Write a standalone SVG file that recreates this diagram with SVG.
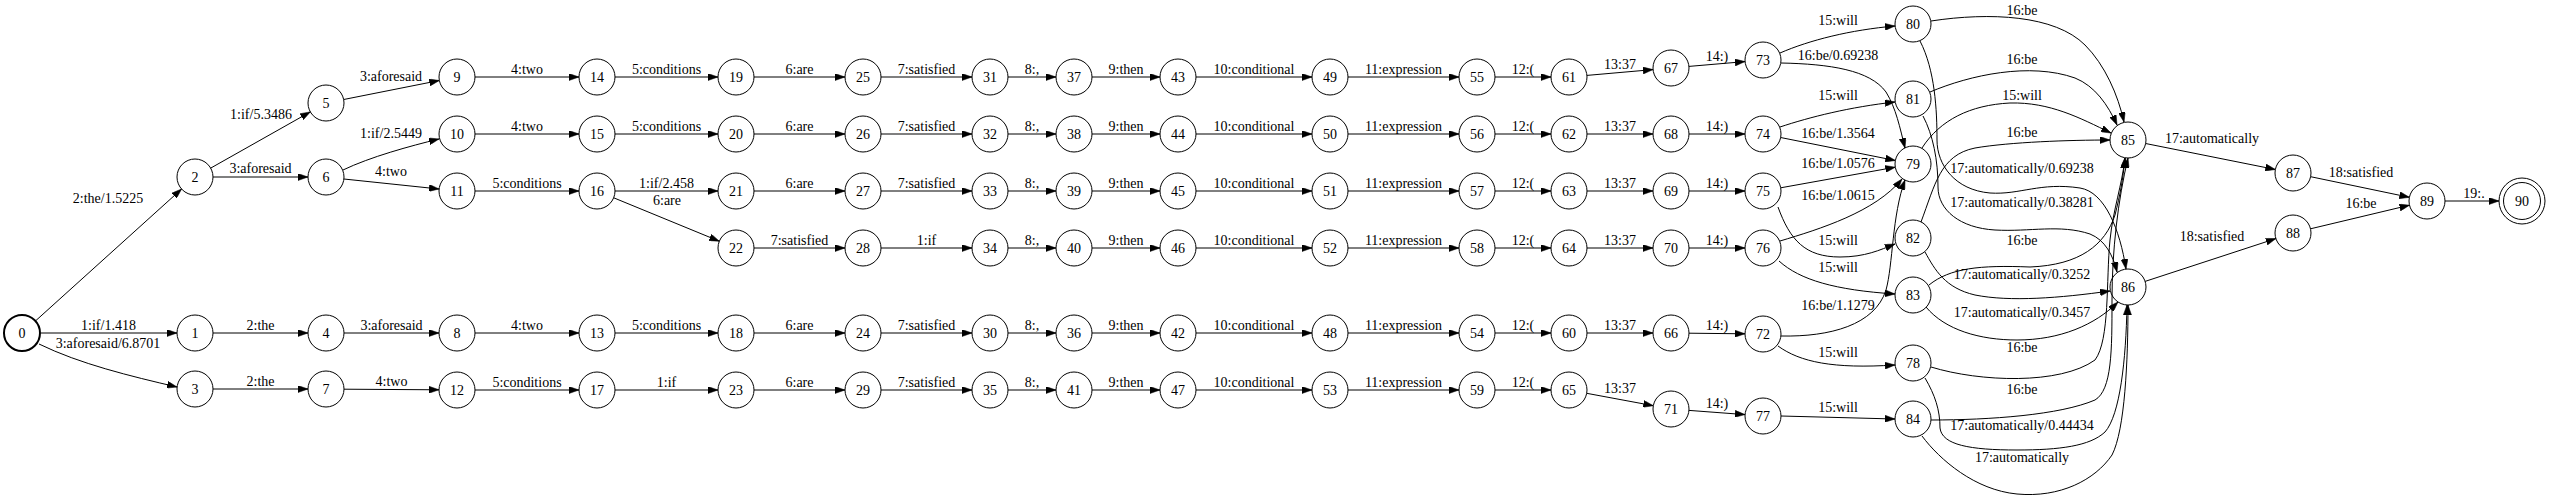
<svg xmlns="http://www.w3.org/2000/svg" width="2550" height="500" viewBox="0 0 2550 500">
<defs>
<marker id="a" viewBox="0 0 10 7" refX="10" refY="3.5" markerWidth="10" markerHeight="7" markerUnits="userSpaceOnUse" orient="auto"><path d="M0,0L10,3.5L0,7z" fill="#000" stroke="#000" stroke-width="0.5"/></marker>
</defs>
<style>
text{font-family:"Liberation Serif","Times New Roman",serif;font-size:14px;text-anchor:middle;fill:#000}
.n circle{fill:none;stroke:#000;stroke-width:1}
#edges path{fill:none;stroke:#000;stroke-width:1;marker-end:url(#a)}
</style>
<rect width="2550" height="500" fill="#fff"/>
<g id="edges">
<g><path d="M475,77L579,77"/><text x="527" y="74">4:two</text></g>
<g><path d="M615,77L718,77"/><text x="666.5" y="74">5:conditions</text></g>
<g><path d="M754,77L845,77"/><text x="799.5" y="74">6:are</text></g>
<g><path d="M881,77L972,77"/><text x="926.5" y="74">7:satisfied</text></g>
<g><path d="M1008,77L1056,77"/><text x="1032" y="74">8:,</text></g>
<g><path d="M1092,77L1160,77"/><text x="1126" y="74">9:then</text></g>
<g><path d="M1196,77L1312,77"/><text x="1254" y="74">10:conditional</text></g>
<g><path d="M1348,77L1459,77"/><text x="1403.5" y="74">11:expression</text></g>
<g><path d="M1495,77L1551,77"/><text x="1523" y="74">12:(</text></g>
<g><path d="M1587,75.4L1653,69.6"/><text x="1620" y="69">13:37</text></g>
<g><path d="M1689,66.4L1745,61.6"/><text x="1717" y="61">14:)</text></g>

<g><path d="M475,134L579,134"/><text x="527" y="131">4:two</text></g>
<g><path d="M615,134L718,134"/><text x="666.5" y="131">5:conditions</text></g>
<g><path d="M754,134L845,134"/><text x="799.5" y="131">6:are</text></g>
<g><path d="M881,134L972,134"/><text x="926.5" y="131">7:satisfied</text></g>
<g><path d="M1008,134L1056,134"/><text x="1032" y="131">8:,</text></g>
<g><path d="M1092,134L1160,134"/><text x="1126" y="131">9:then</text></g>
<g><path d="M1196,134L1312,134"/><text x="1254" y="131">10:conditional</text></g>
<g><path d="M1348,134L1459,134"/><text x="1403.5" y="131">11:expression</text></g>
<g><path d="M1495,134L1551,134"/><text x="1523" y="131">12:(</text></g>
<g><path d="M1587,134L1653,134"/><text x="1620" y="131">13:37</text></g>
<g><path d="M1689,134L1745,134"/><text x="1717" y="131">14:)</text></g>

<g><path d="M475,191L579,191"/><text x="527" y="188">5:conditions</text></g>
<g><path d="M615,191L718,191"/><text x="666.5" y="188">1:if/2.458</text></g>
<g><path d="M754,191L845,191"/><text x="799.5" y="188">6:are</text></g>
<g><path d="M881,191L972,191"/><text x="926.5" y="188">7:satisfied</text></g>
<g><path d="M1008,191L1056,191"/><text x="1032" y="188">8:,</text></g>
<g><path d="M1092,191L1160,191"/><text x="1126" y="188">9:then</text></g>
<g><path d="M1196,191L1312,191"/><text x="1254" y="188">10:conditional</text></g>
<g><path d="M1348,191L1459,191"/><text x="1403.5" y="188">11:expression</text></g>
<g><path d="M1495,191L1551,191"/><text x="1523" y="188">12:(</text></g>
<g><path d="M1587,191L1653,191"/><text x="1620" y="188">13:37</text></g>
<g><path d="M1689,191L1745,191"/><text x="1717" y="188">14:)</text></g>

<g><path d="M754,248L845,248"/><text x="799.5" y="245">7:satisfied</text></g>
<g><path d="M881,248L972,248"/><text x="926.5" y="245">1:if</text></g>
<g><path d="M1008,248L1056,248"/><text x="1032" y="245">8:,</text></g>
<g><path d="M1092,248L1160,248"/><text x="1126" y="245">9:then</text></g>
<g><path d="M1196,248L1312,248"/><text x="1254" y="245">10:conditional</text></g>
<g><path d="M1348,248L1459,248"/><text x="1403.5" y="245">11:expression</text></g>
<g><path d="M1495,248L1551,248"/><text x="1523" y="245">12:(</text></g>
<g><path d="M1587,248L1653,248"/><text x="1620" y="245">13:37</text></g>
<g><path d="M1689,248L1745,248"/><text x="1717" y="245">14:)</text></g>

<g><path d="M41,333L177,333"/><text x="108.5" y="330">1:if/1.418</text></g>
<g><path d="M213,333L308,333"/><text x="260.5" y="330">2:the</text></g>
<g><path d="M344,333L439,333"/><text x="391.5" y="330">3:aforesaid</text></g>
<g><path d="M475,333L579,333"/><text x="527" y="330">4:two</text></g>
<g><path d="M615,333L718,333"/><text x="666.5" y="330">5:conditions</text></g>
<g><path d="M754,333L845,333"/><text x="799.5" y="330">6:are</text></g>
<g><path d="M881,333L972,333"/><text x="926.5" y="330">7:satisfied</text></g>
<g><path d="M1008,333L1056,333"/><text x="1032" y="330">8:,</text></g>
<g><path d="M1092,333L1160,333"/><text x="1126" y="330">9:then</text></g>
<g><path d="M1196,333L1312,333"/><text x="1254" y="330">10:conditional</text></g>
<g><path d="M1348,333L1459,333"/><text x="1403.5" y="330">11:expression</text></g>
<g><path d="M1495,333L1551,333"/><text x="1523" y="330">12:(</text></g>
<g><path d="M1587,333L1653,333"/><text x="1620" y="330">13:37</text></g>
<g><path d="M1689,333.2L1745,333.8"/><text x="1717" y="330">14:)</text></g>

<g><path d="M213,389L308,389"/><text x="260.5" y="386">2:the</text></g>
<g><path d="M344,389.2L439,389.8"/><text x="391.5" y="386">4:two</text></g>
<g><path d="M475,390L579,390"/><text x="527" y="387">5:conditions</text></g>
<g><path d="M615,390L718,390"/><text x="666.5" y="387">1:if</text></g>
<g><path d="M754,390L845,390"/><text x="799.5" y="387">6:are</text></g>
<g><path d="M881,390L972,390"/><text x="926.5" y="387">7:satisfied</text></g>
<g><path d="M1008,390L1056,390"/><text x="1032" y="387">8:,</text></g>
<g><path d="M1092,390L1160,390"/><text x="1126" y="387">9:then</text></g>
<g><path d="M1196,390L1312,390"/><text x="1254" y="387">10:conditional</text></g>
<g><path d="M1348,390L1459,390"/><text x="1403.5" y="387">11:expression</text></g>
<g><path d="M1495,390L1551,390"/><text x="1523" y="387">12:(</text></g>
<g><path d="M1586.7,393.3L1653.3,405.7"/><text x="1620" y="393">13:37</text></g>
<g><path d="M1689,410.4L1745,414.6"/><text x="1717" y="408">14:)</text></g>

<g><path d="M35.4,321L181.6,189"/><text x="108" y="203">2:the/1.5225</text></g>
<g><path d="M39,344C80,364 130,376 177,387"/><text x="108" y="348">3:aforesaid/6.8701</text></g>
<g><path d="M210.7,168.1L310.3,111.9"/><text x="261" y="119">1:if/5.3486</text></g>
<g><path d="M213,177L308,177"/><text x="260.5" y="173">3:aforesaid</text></g>
<g><path d="M343.7,99.5L439.3,80.5"/><text x="391" y="81">3:aforesaid</text></g>
<g><path d="M343,170C370,157 410,146 439,139"/><text x="391" y="138">1:if/2.5449</text></g>
<g><path d="M343.9,179L439.1,189"/><text x="391" y="176">4:two</text></g>
<g><path d="M613.7,197.8L719.3,241.2"/><text x="667" y="205">6:are</text></g>

<g><path d="M1780,53C1810,40 1850,30 1895,26"/><text x="1838" y="25">15:will</text></g>
<g><path d="M1781,63C1830,64 1870,70 1886,92C1896,108 1900,128 1905,148"/><text x="1838" y="60">16:be/0.69238</text></g>
<g><path d="M1780,127C1810,117 1850,107 1895,102"/><text x="1838" y="100">15:will</text></g>
<g><path d="M1780.6,137.5L1895.4,160.5"/><text x="1838" y="138">16:be/1.3564</text></g>
<g><path d="M1780.7,187.8L1895.3,167.2"/><text x="1838" y="168">16:be/1.0576</text></g>
<g><path d="M1780,241C1820,229 1875,212 1902,179"/><text x="1838" y="200">16:be/1.0615</text></g>
<g><path d="M1778,207C1790,240 1805,257 1840,257C1865,257 1880,250 1895,244"/><text x="1838" y="245">15:will</text></g>
<g><path d="M1779,261C1800,280 1835,290 1895,294"/><text x="1838" y="272">15:will</text></g>
<g><path d="M1781,336C1830,337 1875,325 1886,290C1893,265 1892,215 1905,180"/><text x="1838" y="310">16:be/1.1279</text></g>
<g><path d="M1778,346C1800,362 1833,369 1895,365"/><text x="1838" y="357">15:will</text></g>
<g><path d="M1781,416L1895,419"/><text x="1838" y="412">15:will</text></g>

<g><path d="M1931,21C1990,12 2055,15 2085,45C2105,65 2118,95 2124,122"/><text x="2022" y="15">16:be</text></g>
<g><path d="M1930,92C1970,75 2030,62 2075,78C2095,86 2108,105 2117,125"/><text x="2022" y="64">16:be</text></g>
<g><path d="M1922,148C1940,120 1970,105 2010,103C2050,102 2080,118 2111,133"/><text x="2022" y="100">15:will</text></g>
<g><path d="M1921,222C1935,185 1940,155 1975,148C2010,142 2070,140 2110,140"/><text x="2022" y="137">16:be</text></g>
<g><path d="M1920,41C1935,70 1937,110 1937,140C1937,165 1955,190 1990,193C2020,195 2040,182 2080,188C2105,192 2120,230 2126,269"/><text x="2022" y="173">17:automatically/0.69238</text></g>
<g><path d="M1923,116C1933,135 1938,160 1938,187C1938,210 1960,228 1995,230C2030,232 2060,224 2090,234C2105,240 2113,255 2117,272"/><text x="2022" y="207">17:automatically/0.38281</text></g>
<g><path d="M1929,285C1950,268 1980,265 2030,267C2080,265 2105,245 2115,215C2120,195 2123,180 2125,158"/><text x="2022" y="245">16:be</text></g>
<g><path d="M1925,252C1935,270 1945,288 1975,295C2010,302 2060,298 2110,291"/><text x="2022" y="279">17:automatically/0.3252</text></g>
<g><path d="M1926,307C1945,330 1980,340 2017,340C2060,340 2095,325 2118,302"/><text x="2022" y="317">17:automatically/0.3457</text></g>
<g><path d="M1931,367C1980,382 2060,385 2095,360C2110,340 2106,280 2110,240C2113,210 2122,185 2125,158"/><text x="2022" y="352">16:be</text></g>
<g><path d="M1931,420C1990,420 2060,415 2095,400C2112,390 2112,350 2112,300C2112,250 2118,200 2128,158"/><text x="2022" y="394">16:be</text></g>
<g><path d="M1925,378C1935,395 1940,410 1940,428C1942,445 1970,450 2017,450C2060,450 2090,446 2105,432C2120,415 2126,360 2127,305"/><text x="2022" y="430">17:automatically/0.44434</text></g>
<g><path d="M1922,436C1940,460 1975,490 2017,494C2060,498 2095,480 2112,455C2125,430 2128,360 2128,305"/><text x="2022" y="462">17:automatically</text></g>

<g><path d="M2145.6,143.5L2275.4,169.5"/><text x="2212" y="143">17:automatically</text></g>
<g><path d="M2145.1,281.4L2275.9,238.6"/><text x="2212" y="241">18:satisfied</text></g>
<g><path d="M2310.6,176.7L2409.4,197.3"/><text x="2361" y="177">18:satisfied</text></g>
<g><path d="M2310.5,228.8L2409.5,205.2"/><text x="2361" y="208">16:be</text></g>
<g><path d="M2445,201L2499,201"/><text x="2474" y="198">19:.</text></g>
</g>

<g id="n0" class="n"><circle cx="22" cy="333" r="18" style="stroke-width:2"/><text x="22" y="338">0</text></g>
<g id="n1" class="n"><circle cx="195" cy="333" r="18"/><text x="195" y="338">1</text></g>
<g id="n2" class="n"><circle cx="195" cy="177" r="18"/><text x="195" y="182">2</text></g>
<g id="n3" class="n"><circle cx="195" cy="389" r="18"/><text x="195" y="394">3</text></g>
<g id="n4" class="n"><circle cx="326" cy="333" r="18"/><text x="326" y="338">4</text></g>
<g id="n5" class="n"><circle cx="326" cy="103" r="18"/><text x="326" y="108">5</text></g>
<g id="n6" class="n"><circle cx="326" cy="177" r="18"/><text x="326" y="182">6</text></g>
<g id="n7" class="n"><circle cx="326" cy="389" r="18"/><text x="326" y="394">7</text></g>
<g id="n8" class="n"><circle cx="457" cy="333" r="18"/><text x="457" y="338">8</text></g>
<g id="n9" class="n"><circle cx="457" cy="77" r="18"/><text x="457" y="82">9</text></g>
<g id="n10" class="n"><circle cx="457" cy="134" r="18"/><text x="457" y="139">10</text></g>
<g id="n11" class="n"><circle cx="457" cy="191" r="18"/><text x="457" y="196">11</text></g>
<g id="n12" class="n"><circle cx="457" cy="390" r="18"/><text x="457" y="395">12</text></g>
<g id="n13" class="n"><circle cx="597" cy="333" r="18"/><text x="597" y="338">13</text></g>
<g id="n14" class="n"><circle cx="597" cy="77" r="18"/><text x="597" y="82">14</text></g>
<g id="n15" class="n"><circle cx="597" cy="134" r="18"/><text x="597" y="139">15</text></g>
<g id="n16" class="n"><circle cx="597" cy="191" r="18"/><text x="597" y="196">16</text></g>
<g id="n17" class="n"><circle cx="597" cy="390" r="18"/><text x="597" y="395">17</text></g>
<g id="n18" class="n"><circle cx="736" cy="333" r="18"/><text x="736" y="338">18</text></g>
<g id="n19" class="n"><circle cx="736" cy="77" r="18"/><text x="736" y="82">19</text></g>
<g id="n20" class="n"><circle cx="736" cy="134" r="18"/><text x="736" y="139">20</text></g>
<g id="n21" class="n"><circle cx="736" cy="191" r="18"/><text x="736" y="196">21</text></g>
<g id="n22" class="n"><circle cx="736" cy="248" r="18"/><text x="736" y="253">22</text></g>
<g id="n23" class="n"><circle cx="736" cy="390" r="18"/><text x="736" y="395">23</text></g>
<g id="n24" class="n"><circle cx="863" cy="333" r="18"/><text x="863" y="338">24</text></g>
<g id="n25" class="n"><circle cx="863" cy="77" r="18"/><text x="863" y="82">25</text></g>
<g id="n26" class="n"><circle cx="863" cy="134" r="18"/><text x="863" y="139">26</text></g>
<g id="n27" class="n"><circle cx="863" cy="191" r="18"/><text x="863" y="196">27</text></g>
<g id="n28" class="n"><circle cx="863" cy="248" r="18"/><text x="863" y="253">28</text></g>
<g id="n29" class="n"><circle cx="863" cy="390" r="18"/><text x="863" y="395">29</text></g>
<g id="n30" class="n"><circle cx="990" cy="333" r="18"/><text x="990" y="338">30</text></g>
<g id="n31" class="n"><circle cx="990" cy="77" r="18"/><text x="990" y="82">31</text></g>
<g id="n32" class="n"><circle cx="990" cy="134" r="18"/><text x="990" y="139">32</text></g>
<g id="n33" class="n"><circle cx="990" cy="191" r="18"/><text x="990" y="196">33</text></g>
<g id="n34" class="n"><circle cx="990" cy="248" r="18"/><text x="990" y="253">34</text></g>
<g id="n35" class="n"><circle cx="990" cy="390" r="18"/><text x="990" y="395">35</text></g>
<g id="n36" class="n"><circle cx="1074" cy="333" r="18"/><text x="1074" y="338">36</text></g>
<g id="n37" class="n"><circle cx="1074" cy="77" r="18"/><text x="1074" y="82">37</text></g>
<g id="n38" class="n"><circle cx="1074" cy="134" r="18"/><text x="1074" y="139">38</text></g>
<g id="n39" class="n"><circle cx="1074" cy="191" r="18"/><text x="1074" y="196">39</text></g>
<g id="n40" class="n"><circle cx="1074" cy="248" r="18"/><text x="1074" y="253">40</text></g>
<g id="n41" class="n"><circle cx="1074" cy="390" r="18"/><text x="1074" y="395">41</text></g>
<g id="n42" class="n"><circle cx="1178" cy="333" r="18"/><text x="1178" y="338">42</text></g>
<g id="n43" class="n"><circle cx="1178" cy="77" r="18"/><text x="1178" y="82">43</text></g>
<g id="n44" class="n"><circle cx="1178" cy="134" r="18"/><text x="1178" y="139">44</text></g>
<g id="n45" class="n"><circle cx="1178" cy="191" r="18"/><text x="1178" y="196">45</text></g>
<g id="n46" class="n"><circle cx="1178" cy="248" r="18"/><text x="1178" y="253">46</text></g>
<g id="n47" class="n"><circle cx="1178" cy="390" r="18"/><text x="1178" y="395">47</text></g>
<g id="n48" class="n"><circle cx="1330" cy="333" r="18"/><text x="1330" y="338">48</text></g>
<g id="n49" class="n"><circle cx="1330" cy="77" r="18"/><text x="1330" y="82">49</text></g>
<g id="n50" class="n"><circle cx="1330" cy="134" r="18"/><text x="1330" y="139">50</text></g>
<g id="n51" class="n"><circle cx="1330" cy="191" r="18"/><text x="1330" y="196">51</text></g>
<g id="n52" class="n"><circle cx="1330" cy="248" r="18"/><text x="1330" y="253">52</text></g>
<g id="n53" class="n"><circle cx="1330" cy="390" r="18"/><text x="1330" y="395">53</text></g>
<g id="n54" class="n"><circle cx="1477" cy="333" r="18"/><text x="1477" y="338">54</text></g>
<g id="n55" class="n"><circle cx="1477" cy="77" r="18"/><text x="1477" y="82">55</text></g>
<g id="n56" class="n"><circle cx="1477" cy="134" r="18"/><text x="1477" y="139">56</text></g>
<g id="n57" class="n"><circle cx="1477" cy="191" r="18"/><text x="1477" y="196">57</text></g>
<g id="n58" class="n"><circle cx="1477" cy="248" r="18"/><text x="1477" y="253">58</text></g>
<g id="n59" class="n"><circle cx="1477" cy="390" r="18"/><text x="1477" y="395">59</text></g>
<g id="n60" class="n"><circle cx="1569" cy="333" r="18"/><text x="1569" y="338">60</text></g>
<g id="n61" class="n"><circle cx="1569" cy="77" r="18"/><text x="1569" y="82">61</text></g>
<g id="n62" class="n"><circle cx="1569" cy="134" r="18"/><text x="1569" y="139">62</text></g>
<g id="n63" class="n"><circle cx="1569" cy="191" r="18"/><text x="1569" y="196">63</text></g>
<g id="n64" class="n"><circle cx="1569" cy="248" r="18"/><text x="1569" y="253">64</text></g>
<g id="n65" class="n"><circle cx="1569" cy="390" r="18"/><text x="1569" y="395">65</text></g>
<g id="n66" class="n"><circle cx="1671" cy="333" r="18"/><text x="1671" y="338">66</text></g>
<g id="n67" class="n"><circle cx="1671" cy="68" r="18"/><text x="1671" y="73">67</text></g>
<g id="n68" class="n"><circle cx="1671" cy="134" r="18"/><text x="1671" y="139">68</text></g>
<g id="n69" class="n"><circle cx="1671" cy="191" r="18"/><text x="1671" y="196">69</text></g>
<g id="n70" class="n"><circle cx="1671" cy="248" r="18"/><text x="1671" y="253">70</text></g>
<g id="n71" class="n"><circle cx="1671" cy="409" r="18"/><text x="1671" y="414">71</text></g>
<g id="n72" class="n"><circle cx="1763" cy="334" r="18"/><text x="1763" y="339">72</text></g>
<g id="n73" class="n"><circle cx="1763" cy="60" r="18"/><text x="1763" y="65">73</text></g>
<g id="n74" class="n"><circle cx="1763" cy="134" r="18"/><text x="1763" y="139">74</text></g>
<g id="n75" class="n"><circle cx="1763" cy="191" r="18"/><text x="1763" y="196">75</text></g>
<g id="n76" class="n"><circle cx="1763" cy="248" r="18"/><text x="1763" y="253">76</text></g>
<g id="n77" class="n"><circle cx="1763" cy="416" r="18"/><text x="1763" y="421">77</text></g>
<g id="n78" class="n"><circle cx="1913" cy="363" r="18"/><text x="1913" y="368">78</text></g>
<g id="n79" class="n"><circle cx="1913" cy="164" r="18"/><text x="1913" y="169">79</text></g>
<g id="n80" class="n"><circle cx="1913" cy="24" r="18"/><text x="1913" y="29">80</text></g>
<g id="n81" class="n"><circle cx="1913" cy="99" r="18"/><text x="1913" y="104">81</text></g>
<g id="n82" class="n"><circle cx="1913" cy="238" r="18"/><text x="1913" y="243">82</text></g>
<g id="n83" class="n"><circle cx="1913" cy="295" r="18"/><text x="1913" y="300">83</text></g>
<g id="n84" class="n"><circle cx="1913" cy="419" r="18"/><text x="1913" y="424">84</text></g>
<g id="n85" class="n"><circle cx="2128" cy="140" r="18"/><text x="2128" y="145">85</text></g>
<g id="n86" class="n"><circle cx="2128" cy="287" r="18"/><text x="2128" y="292">86</text></g>
<g id="n87" class="n"><circle cx="2293" cy="173" r="18"/><text x="2293" y="178">87</text></g>
<g id="n88" class="n"><circle cx="2293" cy="233" r="18"/><text x="2293" y="238">88</text></g>
<g id="n89" class="n"><circle cx="2427" cy="201" r="18"/><text x="2427" y="206">89</text></g>
<g id="n90" class="n"><circle cx="2522" cy="201" r="18.5"/><circle cx="2522" cy="201" r="23"/><text x="2522" y="206">90</text></g>
</svg>
